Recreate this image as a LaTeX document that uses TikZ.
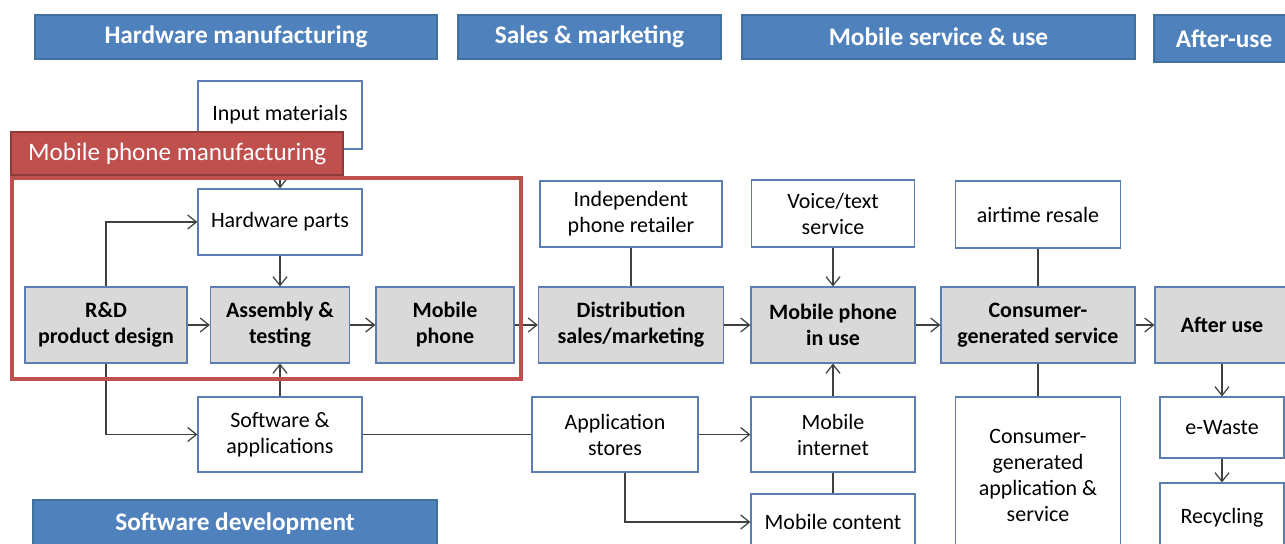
\documentclass[tikz,border=0pt]{standalone}
\usepackage{fontspec}
\setmainfont{Carlito}
\usetikzlibrary{positioning, arrows.meta, calc}
\definecolor{hdrblue}{HTML}{4F81BD}
\definecolor{hdredge}{HTML}{41709F}
\definecolor{boxedge}{HTML}{5B7DB1}
\definecolor{boxgray}{HTML}{D9D9D9}
\definecolor{mfgred}{HTML}{C0504D}
\definecolor{mfgdark}{HTML}{8E3A38}
\definecolor{linegray}{HTML}{404040}

\begin{document}
\begin{tikzpicture}[x=0.02cm, y=-0.02cm,
    header/.style={draw=hdredge, fill=hdrblue, text=white, line width=0.7pt,
      font=\fontsize{14.4}{17}\selectfont\bfseries, minimum height=0.88cm, inner sep=0pt},
    stage/.style={draw=boxedge, fill=white, align=center, line width=0.7pt,
      font=\fontsize{12.5}{14.8}\selectfont, inner sep=0pt},
    mainstage/.style={stage, fill=boxgray, minimum height=1.52cm,
      font=\fontsize{12.5}{14.8}\selectfont\bfseries},
    flow/.style={draw=linegray, line width=0.7pt, -{Straight Barb[length=5pt,width=8pt]}},
    link/.style={draw=linegray, line width=0.7pt}]
  \useasboundingbox (0,0) rectangle (1285,544);

  % value chain stages
  \node[header, minimum width=8.04cm] (hwhdr) at (236,37) {Hardware manufacturing};
  \node[header, minimum width=5.26cm] (saleshdr) at (589.5,37) {Sales \& marketing};
  \node[header, minimum width=7.86cm] (usehdr) at (938.5,37) {Mobile service \& use};
  \node[header, minimum width=2.8cm, minimum height=0.94cm] (afterhdr) at (1224,38.5) {After-use};
  \node[header, minimum width=8.08cm, minimum height=0.96cm] (swhdr) at (235,524) {Software development};

  % manufacturing
  \node[stage, minimum width=3.28cm, minimum height=1.36cm] (input) at (280,115) {Input materials};
  \node[stage, minimum width=3.28cm, minimum height=1.32cm] (hwparts) at (280,222) {Hardware parts};
  \node[mainstage, minimum width=3.24cm] (rnd) at (106,325) {R\&D\\product design};
  \node[mainstage, minimum width=2.78cm] (assembly) at (280,325) {Assembly \&\\testing};
  \node[mainstage, minimum width=2.76cm] (phone) at (445,325) {Mobile\\phone};
  \node[stage, minimum width=3.28cm, minimum height=1.5cm] (software) at (280,434.5) {Software \&\\applications};

  % sales, service and use
  \node[stage, minimum width=3.64cm, minimum height=1.32cm] (retailer) at (631,214) {Independent\\phone retailer};
  \node[mainstage, minimum width=3.7cm] (distrib) at (631,325) {Distribution\\sales/marketing};
  \node[stage, minimum width=3.32cm, minimum height=1.5cm] (appstores) at (615,434.5) {Application\\stores};
  \node[stage, minimum width=3.26cm, minimum height=1.34cm] (voice) at (833,213.5) {Voice/text\\service};
  \node[mainstage, minimum width=3.28cm] (inuse) at (833,325) {Mobile phone\\in use};
  \node[stage, minimum width=3.28cm, minimum height=1.5cm] (internet) at (833,434.5) {Mobile\\internet};
  \node[stage, minimum width=3.28cm, minimum height=1.12cm] (content) at (833,522) {Mobile content};
  \node[stage, minimum width=3.3cm, minimum height=1.34cm] (airtime) at (1038,214.5) {airtime resale};
  \node[mainstage, minimum width=3.88cm] (cgservice) at (1038,325) {Consumer-\\generated service};
  \node[stage, minimum width=3.3cm, minimum height=3.12cm] (cgapp) at (1038,475) {Consumer-\\generated\\application \&\\service};

  % after use
  \node[mainstage, minimum width=2.68cm] (afteruse) at (1222,325) {After use};
  \node[stage, minimum width=2.48cm, minimum height=1.22cm] (ewaste) at (1222,427.5) {e-Waste};
  \node[stage, minimum width=2.48cm, minimum height=1.4cm] (recycling) at (1222,518) {Recycling};

  % connectors
  \draw[flow] (input) -- (hwparts);
  \draw[flow] (hwparts) -- (assembly);
  \draw[flow] (rnd.north) |- (hwparts.west);
  \draw[flow] (rnd.south) |- (software.west);
  \draw[flow] (software) -- (assembly);
  \draw[flow] (rnd) -- (assembly);
  \draw[flow] (assembly) -- (phone);
  \draw[flow] (phone) -- (distrib);
  \draw[flow] (distrib) -- (inuse);
  \draw[flow] (inuse) -- (cgservice);
  \draw[flow] (cgservice) -- (afteruse);
  \draw[link] (retailer) -- (distrib);
  \draw[flow] (voice) -- (inuse);
  \draw[flow] (internet) -- (inuse);
  \draw[link] (software) -- (appstores);
  \draw[flow] (appstores) -- (internet);
  \draw[flow] ([xshift=0.2cm]appstores.south) |- (content.west);
  \draw[link] (internet) -- (content);
  \draw[link] (airtime) -- (cgservice);
  \draw[link] (cgservice) -- (cgapp);
  \draw[flow] (afteruse) -- (ewaste);
  \draw[flow] (ewaste) -- (recycling);

  % mobile phone manufacturing group
  \node[draw=mfgred, line width=2pt, minimum width=10.18cm, minimum height=4.02cm,
        inner sep=0pt] (mfgframe) at (266.5,278.5) {};
  \node[draw=mfgdark, fill=mfgred, text=white, line width=1.2pt, anchor=south west,
        font=\fontsize{14.3}{17}\selectfont, minimum width=6.64cm,
        minimum height=0.86cm, inner xsep=0.3cm] (mfgtitle) at (mfgframe.north west)
        {Mobile phone manufacturing};
\end{tikzpicture}
\end{document}
